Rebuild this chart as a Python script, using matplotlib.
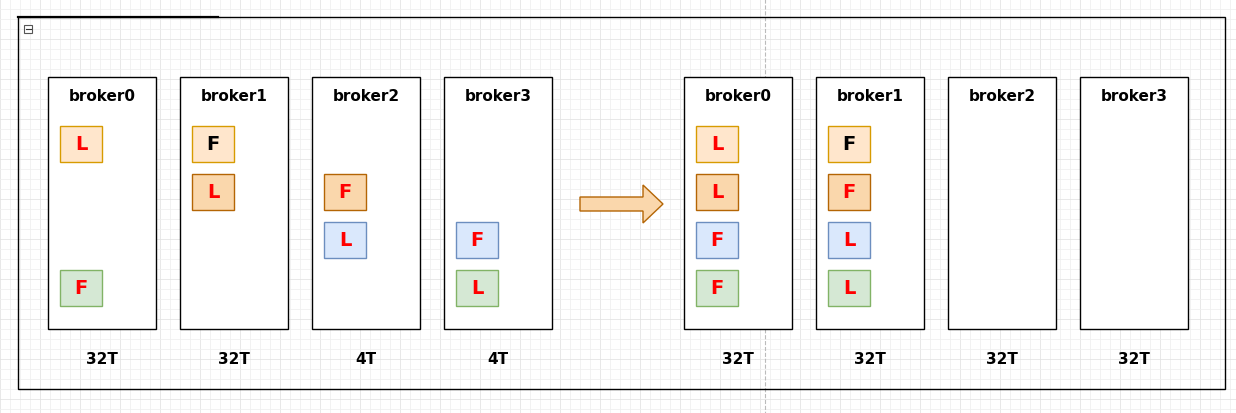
import matplotlib.pyplot as plt
from matplotlib.patches import Rectangle, FancyArrow

# colour groups (partition replicas)
fills = {'o1': '#ffe6cc', 'o2': '#fad7ac', 'b': '#dae8fc', 'g': '#d5e8d4'}
edges = {'o1': '#d79b00', 'o2': '#b46504', 'b': '#6c8ebf', 'g': '#82b366'}

brokers = ['broker0', 'broker1', 'broker2', 'broker3']
before_sizes = ['32T', '32T', '4T', '4T']
after_sizes = ['32T', '32T', '32T', '32T']
# (row, group, letter) per broker
before = [
    [(0, 'o1', 'L'), (3, 'g', 'F')],
    [(0, 'o1', 'F'), (1, 'o2', 'L')],
    [(1, 'o2', 'F'), (2, 'b', 'L')],
    [(2, 'b', 'F'), (3, 'g', 'L')],
]
after = [
    [(0, 'o1', 'L'), (1, 'o2', 'L'), (2, 'b', 'F'), (3, 'g', 'F')],
    [(0, 'o1', 'F'), (1, 'o2', 'F'), (2, 'b', 'L'), (3, 'g', 'L')],
    [],
    [],
]
black_letters = {(0, 1, 0), (1, 1, 0)}  # (side, broker, row)

fig = plt.figure(figsize=(12.36, 4.14), dpi=100)
ax = fig.add_axes([0, 0, 1, 1])
ax.set_xlim(0, 1236)
ax.set_ylim(414, 0)
ax.axis('off')

# background grid
for x in range(0, 1237, 10):
    ax.axvline(x, color='#f0f0f0' if x % 40 else '#e4e4e4', lw=0.6, zorder=0)
for y in range(0, 415, 10):
    ax.axhline(y, color='#f0f0f0' if y % 40 else '#e4e4e4', lw=0.6, zorder=0)
ax.plot([765, 765], [0, 414], color='#bbbbbb', lw=0.8, ls='--', zorder=0.5)

ax.add_patch(Rectangle((18, 18), 1207, 372, fc='none', ec='black', lw=1, zorder=1))
ax.plot([18, 218], [18, 18], color='black', lw=1.6, zorder=2)
ax.add_patch(Rectangle((24, 26), 8, 8, fc='white', ec='#555555', lw=0.8, zorder=2))
ax.plot([25.5, 30.5], [30, 30], color='#333333', lw=0.8, zorder=3)

def draw_side(side, x0, data, sizes):
    for i, name in enumerate(brokers):
        bx = x0 + i * 132
        ax.add_patch(Rectangle((bx, 78), 108, 252, fc='white', ec='black', lw=1, zorder=2))
        ax.text(bx + 54, 97, name, ha='center', va='center', fontsize=11, fontweight='bold', zorder=3)
        ax.text(bx + 54, 360, sizes[i], ha='center', va='center', fontsize=11, fontweight='bold', zorder=3)
        for row, grp, letter in data[i]:
            y = 127 + row * 48
            ax.add_patch(Rectangle((bx + 12, y), 42, 36, fc=fills[grp], ec=edges[grp], lw=1, zorder=3))
            col = 'black' if (side, i, row) in black_letters else '#ff0000'
            ax.text(bx + 33, y + 18, letter, ha='center', va='center', fontsize=14,
                    fontweight='bold', color=col, zorder=4)

draw_side(0, 48, before, before_sizes)
draw_side(1, 684, after, after_sizes)

ax.add_patch(FancyArrow(580, 205, 83, 0, width=14, head_width=38, head_length=20,
                        length_includes_head=True, fc='#fad7ac', ec='#b46504', lw=1, zorder=3))

plt.savefig('out.png', dpi=100)
